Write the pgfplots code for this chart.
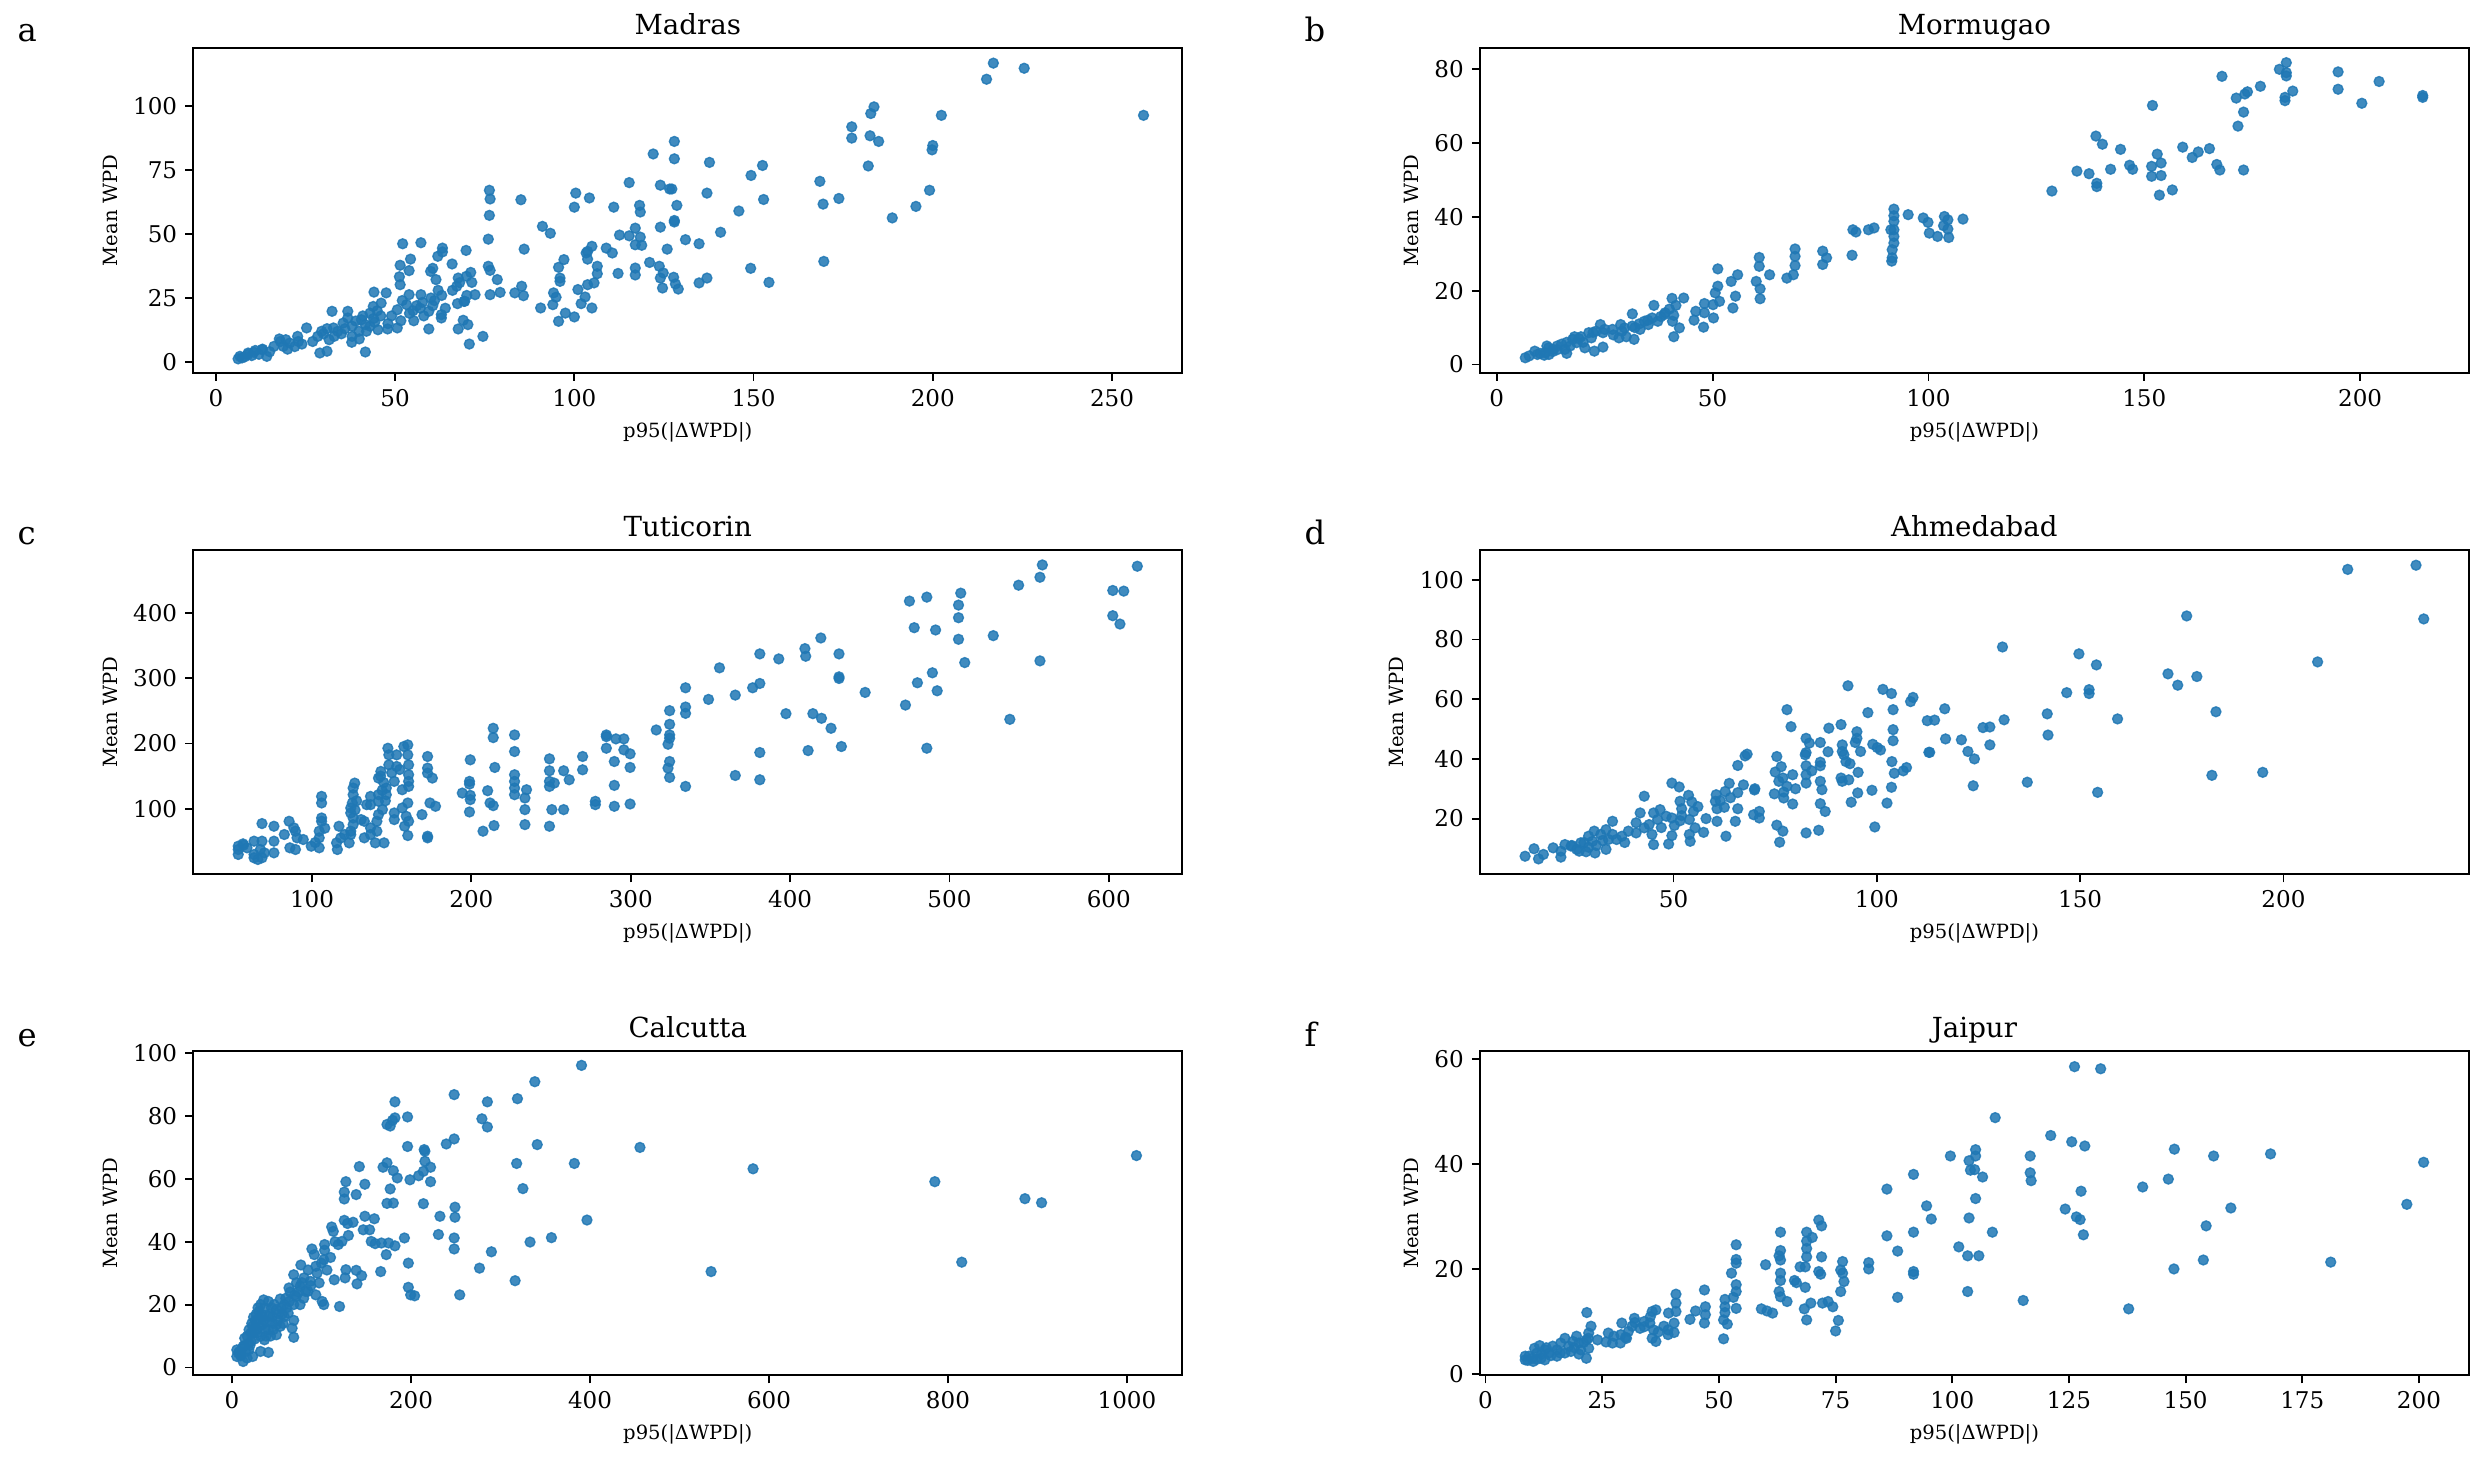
\documentclass[border=0pt]{standalone}
\usepackage{fontspec}
\setmainfont{DejaVu Serif}
\usepackage{pgfplots}
\pgfplotsset{compat=1.18}
\definecolor{tabblue}{HTML}{1F77B4}

\pgfplotsset{
  panel/.style={
    scale only axis, width=429.2pt, height=140.8pt,
    anchor=north west,
    axis line style={line width=0.8pt},
    every tick/.style={line width=0.8pt, black},
    tick align=outside, tick pos=left,
    major tick length=3.5pt,
    /pgf/number format/assume math mode=true,
    /pgf/number format/1000 sep={},
    tick label style={font=\fontsize{10}{12}\selectfont},
    every axis title/.style={font=\fontsize{12}{14}\selectfont, at={(0.5,1)}, anchor=base, yshift=6pt},
    label style={font=\fontsize{8.5}{10}\selectfont},
    xlabel={p95(|ΔWPD|)}, ylabel={Mean WPD},
  },
  dots/.style={only marks, color=tabblue, mark=*, mark size=2.15pt,
    mark options={solid, draw=tabblue, fill=tabblue, line width=0.6pt,
      fill opacity=0.85, draw opacity=0.85}},
}

\begin{document}
\begin{tikzpicture}
\path[use as bounding box] (0,0) rectangle (1078.5pt,-633.6pt);

% ---------- a: Madras ----------
\begin{axis}[panel, at={(83.9pt,-20.96pt)}, title={Madras},
  xmin=-6.3, xmax=269.6, ymin=-4.2, ymax=122.6,
  xtick={0,50,100,150,200,250}, ytick={0,25,50,75,100}]
\addplot[dots] coordinates {
(216.9,116.8)(215,110.5)(225.5,114.8)(258.8,96.4)(183.6,99.7)(182.7,97.1)(202.4,96.4)
(177.4,91.9)(177.4,87.5)(182.5,88.4)(184.9,86.2)(200,84.6)(199.8,82.9)(182,76.6)
(168.5,70.6)(173.8,63.9)(169.4,61.7)(199.1,67.1)(195.3,60.8)(188.7,56.3)(169.6,39.3)
(154.3,31.1)(149.2,36.6)(152.5,76.8)(149.3,72.9)(152.8,63.5)(145.9,59)(140.8,50.7)
(137.7,78)(137,66)(134.8,46.2)(131,47.8)(137,32.8)(134.8,30.9)(127.9,86.2)(127.9,79.4)
(122,81.3)(124,69.1)(126.6,67.6)(127.2,67.6)(128.6,61.2)(127.9,55.3)(127.9,54.7)
(124,52.7)(125.9,44.1)(115.3,70.1)(111,60.5)(118.2,61.2)(118.4,58.6)(117,52.3)
(112.6,49.6)(115.3,49.3)(118.4,48.8)(117,45.8)(118.8,45.6)(108.9,44.5)(110.6,42.6)
(121,38.9)(123.7,37.4)(117,36.7)(117,34)(112.2,34.6)(124.8,34.8)(124,32.8)(127.7,33.1)
(128.2,30.5)(129,28.5)(124.6,28.9)(100.4,66)(104.2,64.1)(100,60.5)(91.1,53)(93.3,50.3)
(86,44.1)(85.1,63.4)(76.3,67.1)(76.5,63.7)(76.3,57.3)(76,48)(76,37.4)(76.5,35.8)
(65.9,38.3)(69.8,43.6)(61.9,41.3)(63.2,43)(63.2,44.5)(57.2,46.6)(52.1,46.2)(54.3,40.2)
(51.4,37.8)(53.9,35.7)(60.5,36.6)(59.9,35.4)(61.4,32.2)(51.2,33.3)(51.4,30.2)(67.6,32.8)
(69.9,33.5)(71.4,31.1)(67.2,29.6)(71.1,35)(78.5,32.2)(72.3,26.3)(69.4,23.7)(67.4,22.8)
(76.5,26.3)(79.3,27.2)(83.4,27)(85.3,29.6)(85.8,25.9)(95.6,37)(96,32.8)(96,31.5)
(97.1,40)(94.2,27)(94.9,25.3)(94,22.4)(90.6,21.1)(97.5,19.1)(95.6,15.9)(100,17.6)
(101,28.3)(103,25.4)(101.9,22.8)(104.9,21.1)(103.7,30.2)(105.5,30.9)(106.4,34.5)
(106.4,37.4)(103.7,40.2)(103.7,43.2)(104.9,45.2)(103.3,42.6)(74.5,10)(70.7,7)(70.3,14.6)
(69,16.3)(67.6,12.9)(69.2,23.7)(62.9,18.5)(62.9,17.2)(59.4,19.8)(60.5,22)(57.6,23.3)
(57.2,26.3)(55.2,16.1)(59.4,12.9)(53.9,26.3)(53.2,22.4)(50.6,20.4)(51.6,16.1)(50.6,13.3)
(47.5,27)(44.1,27.3)(46.1,23)(43.9,21.7)(43,19.1)(40.6,16.5)(41.7,14.6)(39.9,12)
(45.2,12.6)(47.9,12.9)(44.3,15.5)(36.8,19.8)(32.4,19.8)(36.8,17.2)(35.5,15.2)(32.8,13.3)
(29.5,12)(28.4,10)(31.6,8.7)(37.9,7.7)(41.7,3.9)(31,4.2)(29,3.5)(25.3,13.3)(22.8,10)
(20.6,7.4)(19.5,8.7)(17.7,9)(18.8,6.1)(16.2,6.1)(14.2,2.2)(12.9,4.8)(10.6,3.8)(8.9,2.9)
(7.3,1.6)(6.7,2.2)(6.2,1.2)(30,11)(31,13)(33,10)(34,12)(38,14)(42,12)(44,17)(46,18)
(48,15)(55,20)(58,18)(61,24)(64,21)(66,28)(68,31)(70,26)(62,28)(56,22)(38,10)(40,9)
(27,8)(24,7)(22,6)(20,5)(18,8)(15,4)(12,3)(10,2.5)(9,3.5)(8,2)(11,4.5)(13,5)(23,8)
(35,11)(36,13)(39,16)(41,18)(43,14)(45,20)(49,18)(52,24)(54,19)(57,21)(60,25)(63,26)
};
\end{axis}

% ---------- b: Mormugao ----------
\begin{axis}[panel, at={(642.3pt,-20.96pt)}, title={Mormugao},
  xmin=-3.9, xmax=225.2, ymin=-2.25, ymax=85.7,
  xtick={0,50,100,150,200}, ytick={0,20,40,60,80}]
\addplot[dots] coordinates {
(182.9,81.8)(181.3,80)(182.9,79.1)(182.9,78.2)(194.9,79.3)(194.9,74.6)(204.4,76.7)
(168,78.1)(176.9,75.4)(173.9,73.9)(173.3,73.3)(184.4,74.1)(171.3,72.2)(182.6,72.4)
(182.6,71.5)(200.4,70.8)(214.5,72.9)(214.5,72.4)(151.9,70.2)(173,68.4)(171.7,64.6)
(138.8,61.9)(140.3,59.7)(144.5,58.3)(158.9,58.9)(165.1,58.5)(162.5,57.6)(153,57)
(161.1,56.1)(153.9,54.6)(146.6,54)(151.7,53.7)(147.3,52.9)(166.8,54.2)(167.5,52.7)
(173,52.7)(142.2,52.9)(134.4,52.4)(137.2,51.7)(151.7,51)(153.9,51.2)(139,49.1)(139,48.2)
(156.5,47.3)(153.5,45.9)(128.6,47)(92,42.1)(92,40.3)(92,38.8)(92,36.5)(91.3,36.5)
(92,34.7)(92,32.9)(91.6,31.1)(91.6,28.9)(91.5,28)(95.3,40.6)(98.8,39.7)(99.9,38.5)
(103.7,40.1)(104.5,39.2)(103.5,37.6)(104.5,36.7)(108,39.4)(100.2,35.6)(102.1,34.7)
(104.7,34.4)(82.5,36.5)(83.2,35.9)(86.1,36.5)(87.4,37)(82.3,29.6)(75.5,30.7)(76.4,28.9)
(75.5,27.1)(69.1,31.3)(69.1,29.3)(69.1,26.8)(68.7,24.3)(67.2,23.4)(63.2,24.3)(60.8,29)
(60.8,26.6)(55.8,24.3)(54.3,22.5)(60.1,22.5)(61,20.5)(61,17.8)(51.2,25.9)(51.2,21.2)
(50.6,19.4)(51.6,17.1)(50.1,16.2)(55.3,18.5)(54.7,15.3)(50.2,12.6)(47.9,10.1)(43.3,18)
(40.6,17.9)(41.5,16)(36.4,16)(41,13.3)(38.8,13.5)(40.7,11.7)(42.3,9.9)(41,7.5)(48.1,16.5)
(46.1,14.4)(48.1,14)(45.7,12)(37.3,11.7)(35.1,10.8)(31.4,13.7)(31.4,10.4)(29.6,9.9)
(28.3,7.2)(31.8,6.8)(33.2,9.5)(24,10.8)(24.6,8.6)(24.6,4.7)(22.3,8.7)(21.9,7.2)(22.6,3.6)
(19.5,7.5)(18.5,5.9)(16.2,6)(15.8,4.1)(16.2,3)(14,5)(13,4.1)(11.6,5)(11.2,3.2)(9.4,2.7)
(7.5,2.3)(6.6,1.8)(26.8,9.5)(28.7,10.8)(34.2,11.7)(36,12.6)(21.3,8.6)(17.6,6.8)(20.4,4.5)
(12.1,2.7)(8.8,3.6)(27,8)(29,9)(30,7.5)(32,10)(33,11)(35,12)(38,13)(39,14)(40,15)
(20,6)(19,7)(18,7.5)(17,5)(15,5.5)(14,4)(13,3.5)(12,4.5)(10,3)(11,2.5)(23,9)(25,9.5)
};
\end{axis}

% ---------- c: Tuticorin ----------
\begin{axis}[panel, at={(83.9pt,-238.7pt)}, title={Tuticorin},
  xmin=25.5, xmax=646.1, ymin=-0.9, ymax=496.8,
  xtick={100,200,300,400,500,600}, ytick={100,200,300,400}]
\addplot[dots] coordinates {
(558.3,473.9)(617.9,471.9)(556.8,455)(543.4,442.8)(602.5,434.7)(609.4,433.7)(507.1,430.6)
(485.8,424.5)(474.9,418.4)(505.7,412.3)(602.5,396)(607,383.2)(505.7,392.9)(477.9,377.6)
(491.3,374.1)(527.5,365.4)(505.7,359.8)(419.3,361.8)(409.3,345.5)(409.8,333.8)(381,337.4)
(430.7,337.4)(392.9,329.7)(509.6,324.1)(556.8,326.7)(355.7,316)(430.7,302.2)(430.7,299.7)
(489.3,308.4)(479.9,293.1)(492.3,280.8)(447.1,278.3)(381,292)(376.5,285.4)(365.6,274.2)
(334.4,285.4)(348.8,267.6)(334.4,255.9)(334.4,246.2)(324.4,250.3)(324.4,229.4)(324.4,213.1)
(324.4,208)(323.4,198.8)(316,220.7)(472.4,258.9)(537.9,237)(397.4,245.7)(414.3,245.7)
(419.7,238.6)(425.7,223.3)(432.2,195.3)(411.3,189.1)(381,186.1)(485.8,192.7)(365.6,150.9)
(381,144.3)(334.4,134.1)(324.4,147.9)(323.4,162.2)(324.4,172.3)(284.7,213.1)(284.7,210.5)
(290.7,207)(295.7,207)(284.7,192.7)(295.7,190.2)(299.6,184.1)(289.7,172.3)(299.6,163.2)
(289.7,135.7)(269.8,180)(269.8,159.6)(257.9,158.1)(261.4,144.3)(249,176.4)(249,158.1)
(249,141.8)(252,139.2)(249,134.1)(250.5,98.5)(257.9,98.5)(249,73)(277.8,111.2)(277.8,106.1)
(289.7,103.6)(299.6,107.1)(227.1,213.1)(227.1,187.6)(227.1,152)(227.1,141.8)(227.1,131.6)
(227.1,121.4)(234.6,129)(233.6,116.3)(233.6,98.5)(233.6,75.5)(213.7,223.3)(213.7,209)
(214.7,163.2)(210.2,127.5)(211.7,108.7)(213.7,104.6)(214.2,74)(207.3,65.4)(199.3,174.9)
(198.8,141.8)(198.8,137.7)(194.3,123.9)(199.3,120.4)(199.3,113.8)(198.8,94.9)(172.5,180)
(172.5,162.2)(172.5,154.5)(175.5,146.9)(174,108.7)(177.5,103.6)(169,90.8)(172.5,57.7)
(172.5,55.2)(160.1,197.8)(157.6,195.3)(160.1,182.5)(153.1,182.5)(147.6,192.7)(148.2,182.5)
(153.1,164.7)(148.2,167.2)(143.2,157.1)(141.7,146.9)(160.6,167.2)(160.6,152)(160.6,141.8)
(160.6,134.1)(156.6,129)(151.6,141.8)(146.6,131.6)(146.6,121.4)(141.7,121.4)(141.7,111.2)
(136.7,118.8)(136.7,106.1)(134.3,106.1)(141.7,90.8)(144.2,98.5)(151.6,93.4)(156.6,101)
(160.1,108.7)(159.1,88.3)(160.6,80.6)(158.1,73)(160.1,58.7)(151.6,83.2)(140.7,80.6)
(140.7,65.4)(139.7,47.5)(145.2,47.5)(126.8,139.2)(125.8,131.6)(125.8,121.4)(125.3,108.7)
(124.3,101)(124.3,93.4)(125.8,85.7)(125.8,75.5)(124.3,65.4)(124.3,60.3)(130.8,83.2)
(132.8,80.6)(132.8,55.2)(136.7,70.5)(136.7,60.3)(123.3,47.5)(120.4,60.3)(116.9,73)
(115.4,47.5)(115.9,37.3)(106,118.8)(106,108.7)(106,85.7)(106,80.6)(104.5,65.4)(104.5,55.2)
(104.5,39.9)(99.5,42.4)(94.5,52.6)(90.6,55.2)(89.6,37.3)(86.1,39.9)(85.6,80.6)(88.6,70.5)
(89.6,65.4)(82.6,60.3)(76.1,73)(68.6,77.1)(76.1,50.1)(76.1,32.2)(68.6,50.1)(67.6,37.3)
(68.6,24.6)(63.6,50.1)(63.6,24.6)(56.7,46)(53.7,42.4)(53.7,37.3)(53.7,29.7)(59.2,39.9)
(63.6,29.7)(70.1,32.2)(143,150)(145,140)(150,155)(155,160)(146,112)(144,128)(128,112)
(127,98)(118,55)(108,70)(102,48)(57,44)(66,22)
};
\end{axis}

% ---------- d: Ahmedabad ----------
\begin{axis}[panel, at={(642.3pt,-238.7pt)}, title={Ahmedabad},
  xmin=2.4, xmax=245.6, ymin=1.3, ymax=110,
  xtick={50,100,150,200}, ytick={20,40,60,80,100}]
\addplot[dots] coordinates {
(232.6,104.9)(215.8,103.5)(234.5,86.9)(176.2,87.9)(208.4,72.5)(130.9,77.5)(149.7,75.2)
(154,71.5)(171.6,68.5)(178.7,67.6)(174,64.7)(92.9,64.5)(101.5,63.3)(103.6,61.9)(108.9,60.6)
(108.3,59.2)(146.7,62.2)(152.2,63.2)(152.2,61.9)(77.9,56.5)(97.8,55.5)(104,56.5)(116.7,56.8)
(183.4,55.8)(141.9,55.1)(159.2,53.4)(112.4,52.8)(114.2,53)(131.3,53.1)(126.1,50.5)
(127.8,50.7)(78.9,50.8)(88.2,50.3)(91.2,51.5)(95.1,49.1)(95.1,46.9)(94.7,45.5)(104,49.8)
(104,46.1)(116.9,46.7)(120.8,46.4)(142.1,48)(127.8,44.7)(122.4,42.5)(124,40)(112.8,42.2)
(82.6,46.9)(83.4,45.3)(86.1,45.5)(82.4,41.4)(82.6,42.1)(88,42.4)(91.5,44.7)(91.5,42.5)
(91.9,41.4)(99,44.9)(100.1,43.8)(100.9,43)(96,42.5)(92.4,39.1)(93.4,38.4)(86.1,38.9)
(86.1,37.7)(82.6,37.7)(82.6,34.7)(82.6,31.9)(86.1,32.5)(91.2,33.6)(91.5,32.5)(93.1,33)
(95.4,35.5)(103.7,39.1)(107.3,37.1)(106.5,36)(104.3,35.2)(103.6,30.5)(98.8,29.5)(95.3,28.6)
(93.7,25.5)(102.5,25.2)(86.5,29.7)(86.1,25)(87.3,22.4)(79.3,24.9)(77.1,28.9)(77.9,30.8)
(75.9,32.5)(76.9,33.6)(75,35.6)(76.5,37.4)(75.4,40.8)(79.3,34.7)(74.8,28.3)(77.1,26.9)
(65.8,37.8)(67.6,41)(68.1,41.6)(67.2,31.3)(63.7,31.8)(69.9,29.6)(65.8,28.7)(62.7,29.1)
(60.5,28)(60.3,25.8)(61.5,26)(62.5,23.8)(60.7,23.3)(65.8,23.3)(71.1,22.4)(71.1,20.2)
(69.7,21.3)(65.2,19.1)(60.7,19.1)(62.9,14.1)(75.4,17.8)(76.9,15.8)(76.1,12.1)(82.6,15.2)
(85.7,16.1)(99.5,17.2)(57.4,15.4)(54.1,12.4)(53.9,14.7)(55.3,16.9)(49.6,31.9)(51.4,30.6)
(53.7,27.8)(51.6,25.8)(52,23.3)(54.5,25.6)(54.9,22.4)(53.9,19.7)(51.6,19.3)(49.6,20.2)
(48.2,20.8)(50.2,17.7)(46.7,23)(45.1,21.9)(46.1,19.7)(44,18)(41.8,21.9)(40.8,18.6)
(42.8,16.9)(44.7,14.7)(40.8,15.2)(42.8,27.5)(49.6,14.3)(48.8,11.5)(45.1,11.3)(38.9,15.8)
(37.3,14.1)(35,19.1)(35,14.7)(33.4,16.3)(32.1,14.7)(32.6,12.7)(30.5,15.8)(29.1,14.1)
(30.1,12.4)(33.4,9.7)(30.7,8.5)(29.1,10.4)(27.2,11.9)(26.2,9.7)(24.8,10.8)(23.3,11.3)
(22.3,9.1)(20.4,10.2)(18,8)(15.7,9.9)(16.8,6.5)(13.5,7.4)(22.3,7.1)(26.8,9.1)(28.5,8.9)
(194.9,35.5)(182.4,34.5)(137,32.2)(123.7,31)(154.3,28.8)(113,42.2)(36,13)(38,12)(28,12)
(31,11)(34,13)(25,11)(47,17)(52,21)(56,24)(58,20)(64,27)(70,30)(80,30)(84,36)
};
\end{axis}

% ---------- e: Calcutta ----------
\begin{axis}[panel, at={(83.9pt,-456.1pt)}, title={Calcutta},
  xmin=-43.3, xmax=1061.8, ymin=-2.5, ymax=100.7,
  xtick={0,200,400,600,800,1000}, ytick={0,20,40,60,80,100}]
\addplot[dots] coordinates {
(390.5,96.1)(338.3,90.9)(248.2,86.8)(285.3,84.5)(318.9,85.5)(182,84.5)(196.1,79.7)(182,79.4)
(179.3,78.6)(173.1,77.3)(176.7,76.8)(279.2,79.1)(285.3,76.5)(248.2,72.7)(239.4,71.1)
(341,70.9)(455.8,70)(196.1,70.3)(214.7,69.3)(215.5,68.8)(1010.6,67.4)(318,64.9)(382.5,64.9)
(582.2,63.2)(142.2,63.9)(173.1,65.1)(168.7,63.7)(180.2,62.6)(215.5,65.6)(221.8,63.7)
(213.8,62.4)(208.5,61)(184.6,60.3)(198.8,59.7)(221.8,59.1)(127.2,59.1)(148.4,58.3)
(785.3,59.1)(125.4,55.8)(138.7,55)(125.4,53.6)(176.7,56.8)(325,56.9)(886,53.7)(904.6,52.4)
(173.1,52.2)(180.2,52.3)(213.8,52.1)(249.1,51)(232.3,48.1)(249.1,47.8)(396.6,46.9)
(148.4,48.1)(159,47.3)(125.4,46.8)(135.2,46.2)(129,45.8)(111.3,44.7)(113.1,43.3)(146.6,43.8)
(153.7,43.8)(230.6,42.3)(192.6,41.2)(248.2,41.2)(356.9,41.3)(333,39.9)(122.8,40.1)
(118.6,39.1)(155.5,40.1)(159.9,39.4)(166.9,39.6)(174.9,39.6)(182,38.7)(172.3,35.9)
(248.2,37.7)(289.8,36.8)(89.2,37.7)(91.9,35.9)(103.4,39.1)(103.4,37.3)(197,33.2)(815.4,33.5)
(102.5,34.3)(99.8,33.2)(93.6,32.2)(76.9,32.6)(127.2,31.1)(138.7,30.9)(144.8,29.2)(166.1,30.5)
(276.5,31.6)(535.3,30.5)(126.3,28.5)(114.2,27.9)(139.6,26.6)(316.3,27.6)(197,25.5)(199.6,23.1)
(204,22.8)(254.4,23.1)(120.1,19.4)(100.7,21)(102.5,20)(87.5,27.4)(97.3,26.9)(84.8,24.2)
(93.6,23.1)(68.9,29.5)(80.4,28.5)(63.6,25.3)(76,25.8)(82.2,24.2)(71.6,22.6)(58.3,20)
(68.9,20)(53.9,21.8)(49.5,18.4)(68.9,15)(67.1,12.5)(68.9,9.6)(49.5,10.4)(49.5,13.6)(40.6,21)
(36.2,18.9)(35.3,21.5)(30,17.8)(40.6,16.2)(45,14.1)(40.6,12)(29.2,15.2)(23,13.1)(23,10.9)
(31.8,9.9)(36.2,8.8)(40.6,4.8)(31.8,5.1)(18.6,7.7)(14.1,9.3)(12.4,6.7)(9.7,3.7)(5.3,3.5)
(7.1,4.6)(16.8,3)(23,3.5)(12.4,1.9)(58.3,16.2)(45,16.2)(53.9,13.1)(62.7,17.3)(76,20)
(18.6,5.6)(21.2,8.3)(27.4,12)(33.6,13.6)(38.9,14.6)(5.3,5.6)(60,22)(65,24)(72,27)(85,31)
(95,30)(110,35)(55,19)(47,20)(42,17)(35,15)(28,11)(25,9)(20,7)(15,5)(10,4)(26,15)(33,17)
(44,19)(52,17)(57,14)(38,10)(30,13)(80,22)(88,26)(106,31)(115,40)(130,42)
(17,10)(19,12)(22,14)(24,16)(27,17)(29,19)(32,20)(34,16)(37,12)(43,10)(46,12)(51,15)
(56,17)(61,19)(64,21)(70,23)(74,24)(78,27)(11,6)(14,7)(8,5)(21,11)(26,13)
};
\end{axis}

% ---------- f: Jaipur ----------
\begin{axis}[panel, at={(642.3pt,-456.1pt)}, title={Jaipur},
  xmin=-1.2, xmax=210.7, ymin=-0.25, ymax=61.5,
  xtick={0,25,50,75,100,125,150,175,200}, ytick={0,20,40,60}]
\addplot[dots] coordinates {
(126.2,58.5)(131.8,58.1)(109.2,48.8)(121.1,45.4)(125.6,44.2)(128.4,43.4)(105,42.7)(105,41.5)
(99.6,41.5)(103.6,40.6)(103.9,38.8)(104.8,38.9)(106.5,37.5)(116.7,41.5)(116.7,38.3)
(116.9,36.8)(147.6,42.8)(156,41.5)(168.2,41.9)(201,40.3)(91.7,38)(86,35.2)(146.3,37.1)
(140.8,35.6)(127.6,34.8)(105,33.4)(94.5,32)(124.2,31.4)(159.7,31.6)(197.4,32.3)(95.5,29.5)
(103.6,29.7)(126.6,29.9)(127.4,29.4)(128.1,26.5)(154.4,28.2)(108.6,27)(91.7,27)(86,26.3)
(101.4,24.2)(88.3,23.4)(103.3,22.5)(105.7,22.5)(82.1,21.2)(82.1,20)(153.8,21.7)(181.1,21.3)
(147.5,20)(91.7,19.5)(91.7,19)(103.3,15.7)(88.3,14.6)(115.2,14)(137.8,12.4)(71.4,29.3)
(72,28.2)(68.8,27)(70,26)(68.8,25.3)(68.8,23.9)(68.8,22.3)(68.5,20.4)(67.4,20.4)(72,22.3)
(63.2,27)(63.2,23.5)(62.9,22.5)(63.2,21.7)(63.2,19.2)(63.2,17.8)(62.9,15.7)(63.2,14.7)
(64.6,13.8)(66.2,17.8)(66.6,17.4)(68.5,16.5)(71.4,19.5)(71.8,19)(76.5,21.4)(76.1,19.8)
(76.5,19.2)(76.8,17.6)(76.1,15.7)(73.4,13.8)(72.2,13.5)(69.7,13.5)(74.4,12.8)(68.8,10.3)
(75.6,10.2)(75,8.2)(68.3,12.4)(60,20.8)(53.7,24.6)(53.7,21.8)(53.7,21.1)(52.7,19.2)(53.7,17)
(53.7,15.7)(53.1,14.6)(51.3,14.2)(53.7,12.5)(51.3,12.8)(51.3,11.7)(51,10.3)(51.8,9.5)
(51,6.7)(59.1,12.4)(60.3,12)(61.5,11.6)(46.9,16)(47.1,12.8)(47.1,11.3)(46.9,9.7)(45,12)
(43.8,10.4)(40.8,15.2)(40.8,13.5)(40.8,11.9)(40.4,9.7)(40.4,7.9)(39.2,11.6)(39.1,8.4)
(39.1,7.5)(38.2,9.1)(36.5,12.2)(35.7,11.9)(35.3,10.9)(35.2,9.7)(36,8.4)(35.7,6.8)(36.5,6.2)
(34,10)(33.1,8.7)(31.9,10.6)(31.4,9.1)(30.6,8.1)(30.2,6.8)(29.2,9.7)(28.9,5.9)(27.5,7.2)
(27.2,5.9)(26.3,7.8)(25.8,6.1)(22.6,9.1)(22.1,7.8)(21.7,11.7)(21.6,6.5)(21.6,3)(19.5,7.2)
(18.7,6.2)(17.8,5.3)(17,6.8)(16.1,5.9)(15.3,4.6)(14.4,5.3)(13.6,4)(12.7,4.6)(11.9,3)(11,4)
(10.2,2.4)(9.3,3.4)(8.5,2.7)(10.5,4.9)(11.6,5.4)(15.3,3.4)(17,4)(20.4,4.6)(22.1,4.9)(20,5.9)
(18.3,4.3)(8.5,3.4)(12.7,2.7)(21,6)(19,5)(16,4)(14,3.5)(13,5)(12,3.8)(10,3)(9,2.6)(11,2.8)
(20,3.8)(22,6.8)(24,6.5)(30,7)(32,9.8)(34,9)(37,8)(29,7.5)
};
\end{axis}

% panel letters
\begin{scope}[every node/.style={anchor=base west, inner sep=0pt, font=\fontsize{14}{16}\selectfont}]
\node at (7.4pt,-17.8pt) {a};
\node at (566pt,-17.8pt) {b};
\node at (7.4pt,-236.5pt) {c};
\node at (566pt,-236.5pt) {d};
\node at (7.4pt,-454pt) {e};
\node at (566pt,-454pt) {f};
\end{scope}
\end{tikzpicture}
\end{document}
